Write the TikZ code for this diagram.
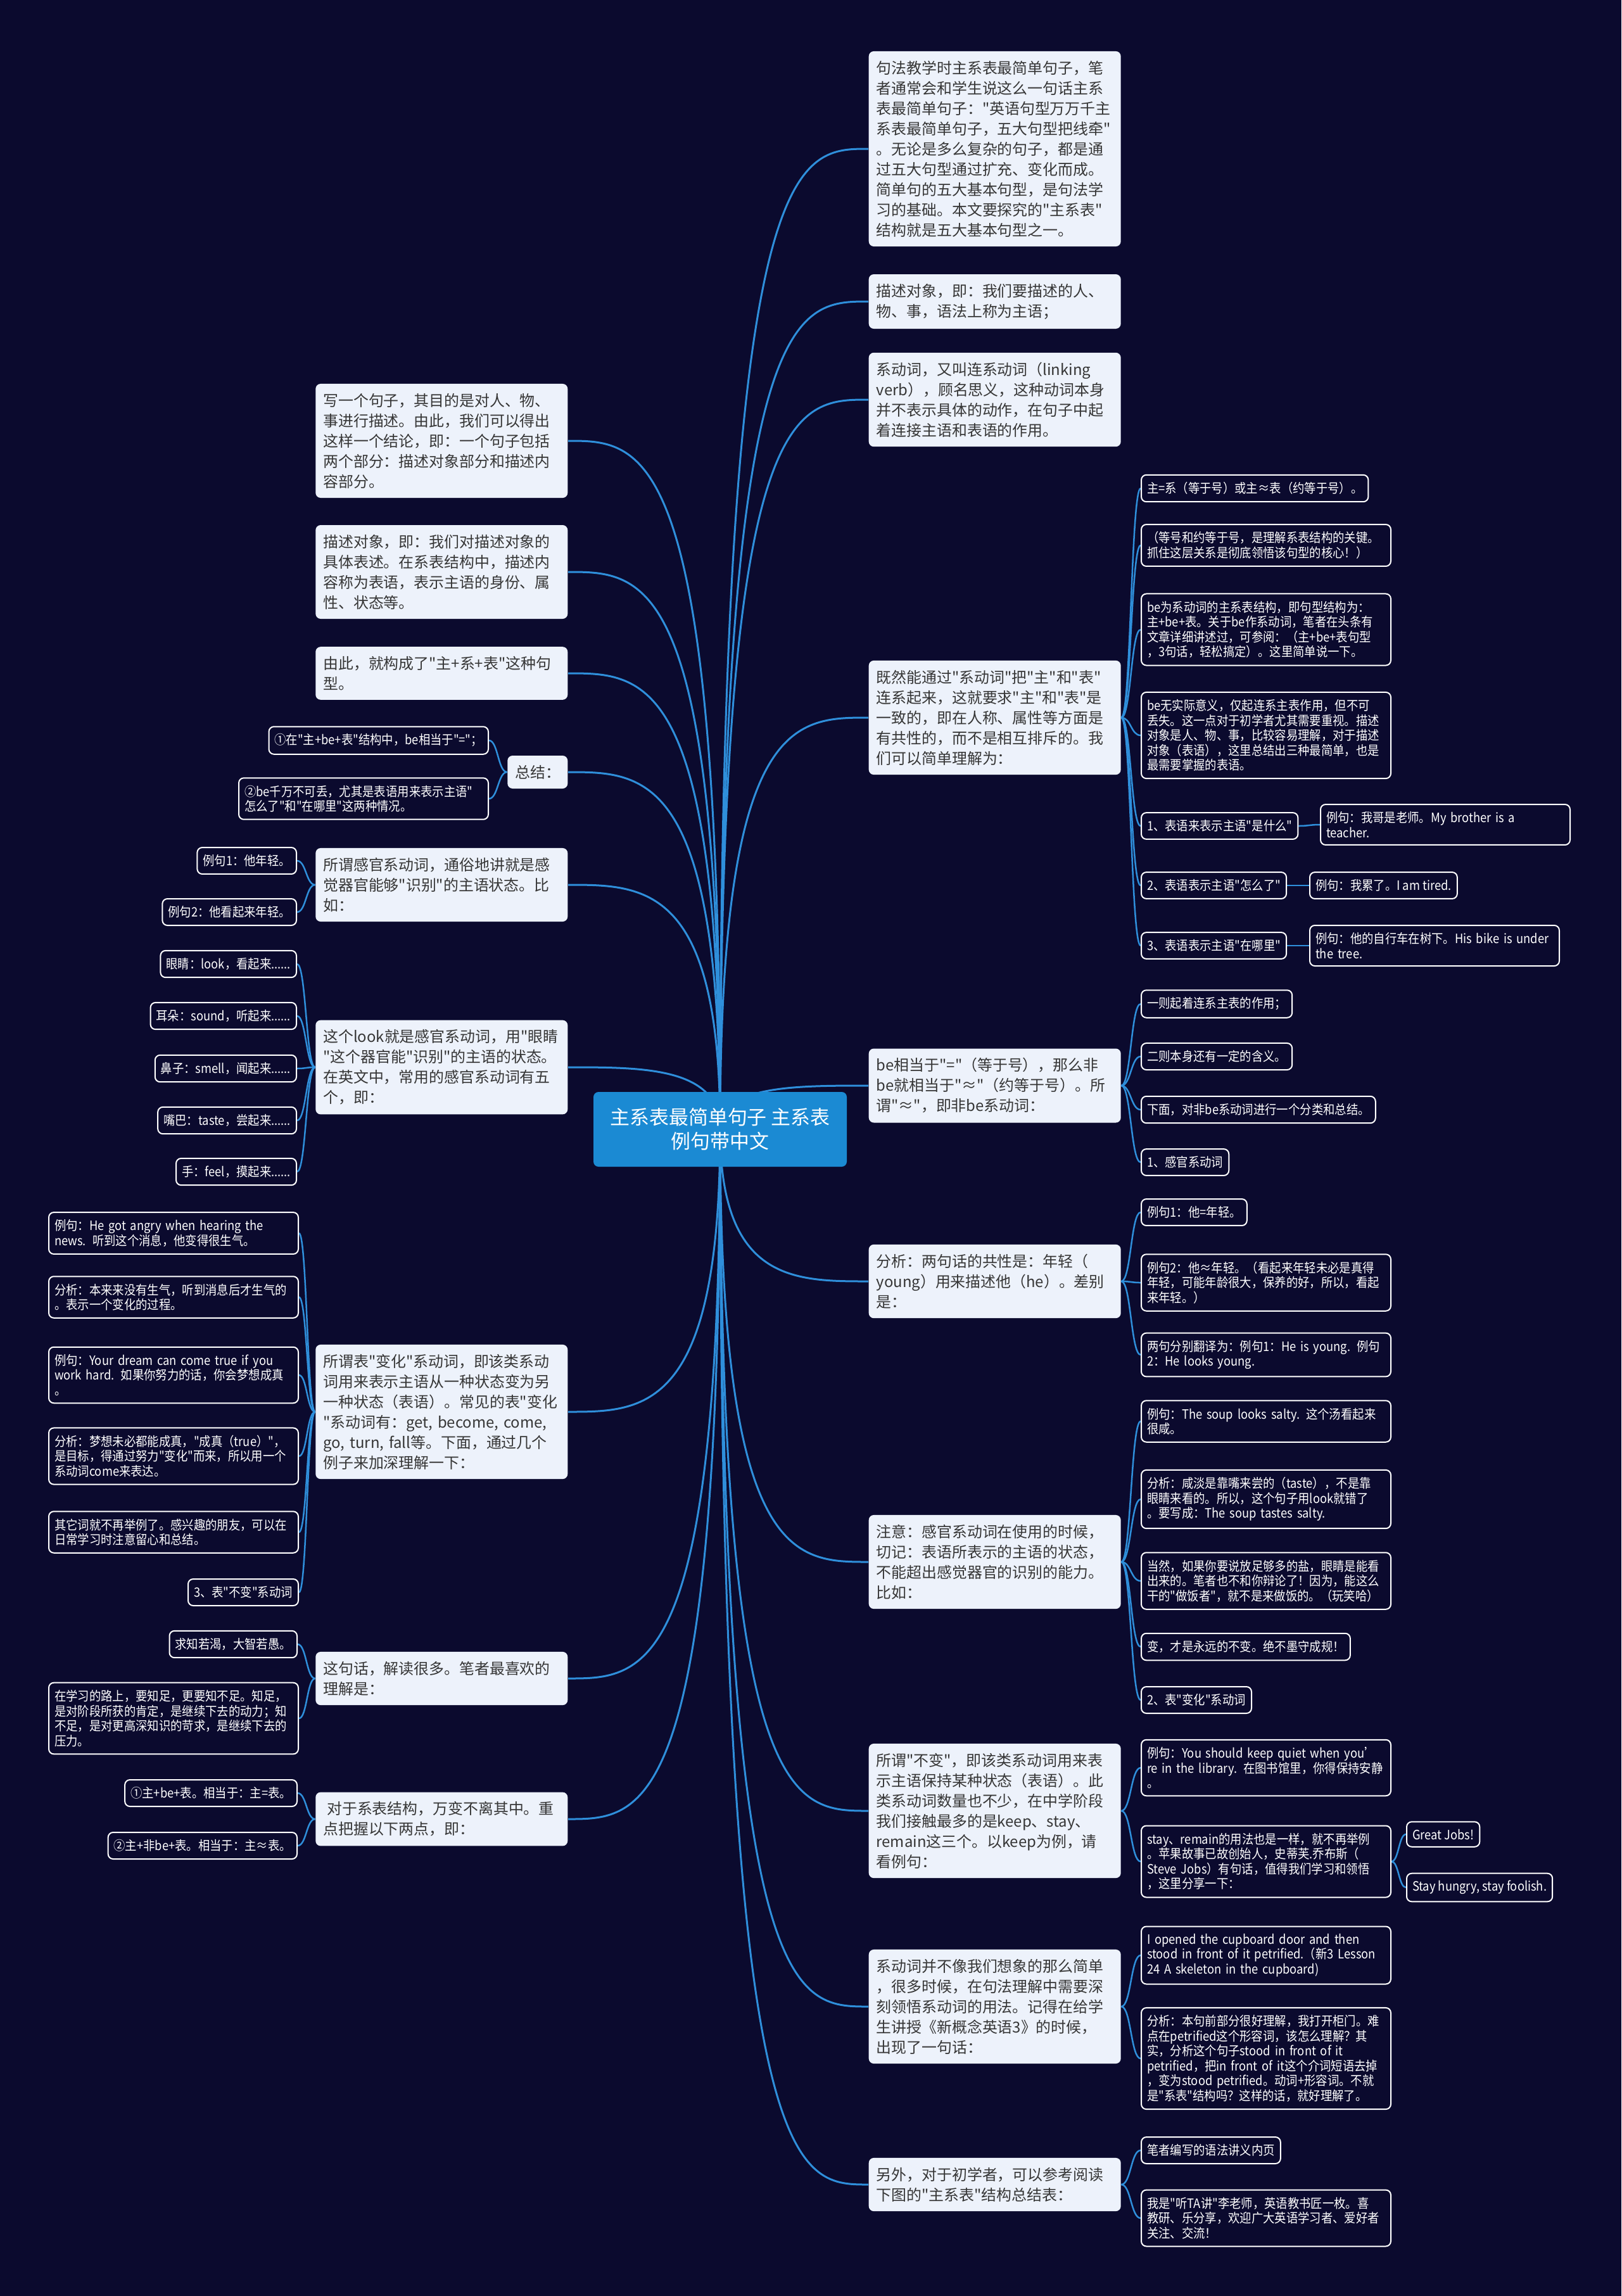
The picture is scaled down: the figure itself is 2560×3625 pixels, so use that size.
\documentclass[tikz,border=0pt]{standalone}
\usepackage{fontspec}
\newfontfamily\cjkmain{Noto Sans CJK SC}
\newfontfamily\cjknarrow[FakeStretch=0.9]{Noto Sans CJK SC}
\usetikzlibrary{calc,backgrounds}
\definecolor{nightbg}{HTML}{0B0A2E}
\definecolor{linkblue}{HTML}{2F8FDB}
\definecolor{hubblue}{HTML}{1B8AD3}
\definecolor{cardfill}{HTML}{EDF2FB}
\definecolor{cardtext}{HTML}{363636}

\begin{document}
\begin{tikzpicture}[
    x=0.1mm, y=-0.1mm,
    every node/.style={font=\cjkmain\fontsize{6.8}{9.1}\selectfont},
    hub/.style={rectangle, rounded corners=0.8mm, fill=hubblue, text=white, align=center, font=\cjkmain\fontsize{8.8}{10.8}\selectfont, minimum width=40mm, minimum height=11.8mm, inner sep=1.2mm},
    topic/.style={rectangle, rounded corners=0.8mm, fill=cardfill, text=cardtext, align=left, text width=37.4mm, inner xsep=1.2mm, inner ysep=1.5mm},
    leaf/.style={rectangle, rounded corners=0.8mm, draw=white, line width=0.2mm, fill=nightbg, text=white, align=left, inner xsep=0.9mm, inner ysep=1.15mm, font=\cjknarrow\fontsize{5.8}{6.7}\selectfont},
    wide/.style={text width=37.6mm},
    trunk/.style={draw=linkblue, line width=0.3mm, to path={let \p1=(\tikztostart), \p2=(\tikztotarget) in .. controls (\x1,\y2) and ({0.5*(\x1+\x2)},\y2) .. (\tikztotarget)}},
    twig/.style={draw=linkblue, line width=0.25mm, to path={let \p1=(\tikztostart), \p2=(\tikztotarget) in .. controls ({0.5*(\x1+\x2)},\y1) and ({0.5*(\x1+\x2)},\y2) .. (\tikztotarget)}}
]
\useasboundingbox (0,0) rectangle (2560,3625);

\node[hub] (hub) at (1137,1783) {主系表最简单句子 主系表\\例句带中文};

\node[topic, anchor=west] (r1) at (1371,235) {句法教学时主系表最简单句子，笔\\者通常会和学生说这么一句话主系\\表最简单句子："英语句型万万千主\\系表最简单句子，五大句型把线牵"\\。无论是多么复杂的句子，都是通\\过五大句型通过扩充、变化而成。\\简单句的五大基本句型，是句法学\\习的基础。本文要探究的"主系表"\\结构就是五大基本句型之一。};
\node[topic, anchor=west] (r2) at (1371,476) {描述对象，即：我们要描述的人、\\物、事，语法上称为主语；};
\node[topic, anchor=west] (r3) at (1371,631) {系动词，又叫连系动词（linking\\verb），顾名思义，这种动词本身\\并不表示具体的动作，在句子中起\\着连接主语和表语的作用。};
\node[topic, anchor=west] (r4) at (1371,1133) {既然能通过"系动词"把"主"和"表"\\连系起来，这就要求"主"和"表"是\\一致的，即在人称、属性等方面是\\有共性的，而不是相互排斥的。我\\们可以简单理解为：};
\node[topic, anchor=west] (r5) at (1371,1714) {be相当于"="（等于号），那么非\\be就相当于"≈"（约等于号）。所\\谓"≈"，即非be系动词：};
\node[topic, anchor=west] (r6) at (1371,2023) {分析：两句话的共性是：年轻（\\young）用来描述他（he）。差别\\是：};
\node[topic, anchor=west] (r7) at (1371,2466) {注意：感官系动词在使用的时候，\\切记：表语所表示的主语的状态，\\不能超出感觉器官的识别的能力。\\比如：};
\node[topic, anchor=west] (r8) at (1371,2859) {所谓"不变"，即该类系动词用来表\\示主语保持某种状态（表语）。此\\类系动词数量也不少，在中学阶段\\我们接触最多的是keep、stay、\\remain这三个。以keep为例，请\\看例句：};
\node[topic, anchor=west] (r9) at (1371,3168) {系动词并不像我们想象的那么简单\\，很多时候，在句法理解中需要深\\刻领悟系动词的用法。记得在给学\\生讲授《新概念英语3》的时候，\\出现了一句话：};
\node[topic, anchor=west] (r10) at (1371,3449) {另外，对于初学者，可以参考阅读\\下图的"主系表"结构总结表：};

\node[topic, anchor=east] (l1) at (897,696) {写一个句子，其目的是对人、物、\\事进行描述。由此，我们可以得出\\这样一个结论，即：一个句子包括\\两个部分：描述对象部分和描述内\\容部分。};
\node[topic, anchor=east] (l2) at (897,903) {描述对象，即：我们对描述对象的\\具体表述。在系表结构中，描述内\\容称为表语，表示主语的身份、属\\性、状态等。};
\node[topic, anchor=east] (l3) at (897,1063) {由此，就构成了"主+系+表"这种句\\型。};
\node[topic, anchor=east, text width=7.1mm] (l4) at (897,1219) {总结：};
\node[topic, anchor=east] (l5) at (897,1397) {所谓感官系动词，通俗地讲就是感\\觉器官能够"识别"的主语状态。比\\如：};
\node[topic, anchor=east] (l6) at (897,1685) {这个look就是感官系动词，用"眼睛\\"这个器官能"识别"的主语的状态。\\在英文中，常用的感官系动词有五\\个，即：};
\node[topic, anchor=east] (l7) at (897,2229) {所谓表"变化"系动词，即该类系动\\词用来表示主语从一种状态变为另\\一种状态（表语）。常见的表"变化\\"系动词有：get, become, come,\\go, turn, fall等。下面，通过几个\\例子来加深理解一下：};
\node[topic, anchor=east] (l8) at (897,2650) {这句话，解读很多。笔者最喜欢的\\理解是：};
\node[topic, anchor=east] (l9) at (897,2872) {\hspace*{0.25em}对于系表结构，万变不离其中。重\\点把握以下两点，即：};

\node[leaf, anchor=west] (r4a) at (1801,771) {主=系（等于号）或主≈表（约等于号）。};
\node[leaf, wide, anchor=west] (r4b) at (1801,861) {（等号和约等于号，是理解系表结构的关键。\\抓住这层关系是彻底领悟该句型的核心！）};
\node[leaf, wide, anchor=west] (r4c) at (1801,994) {be为系动词的主系表结构，即句型结构为：\\主+be+表。关于be作系动词，笔者在头条有\\文章详细讲述过，可参阅：（主+be+表句型\\，3句话，轻松搞定）。这里简单说一下。};
\node[leaf, wide, anchor=west] (r4d) at (1801,1161) {be无实际意义，仅起连系主表作用，但不可\\丢失。这一点对于初学者尤其需要重视。描述\\对象是人、物、事，比较容易理解，对于描述\\对象（表语），这里总结出三种最简单，也是\\最需要掌握的表语。};
\node[leaf, anchor=west] (r4e) at (1801,1304) {1、表语来表示主语"是什么"};
\node[leaf, anchor=west] (r4f) at (1801,1398) {2、表语表示主语"怎么了"};
\node[leaf, anchor=west] (r4g) at (1801,1493) {3、表语表示主语"在哪里"};
\node[leaf, wide, anchor=west] (e1) at (2084,1302) {例句：我哥是老师。My brother is a\\teacher.};
\node[leaf, anchor=west] (e2) at (2067,1398) {例句：我累了。I am tired.};
\node[leaf, wide, anchor=west] (e3) at (2067,1493) {例句：他的自行车在树下。His bike is under\\ the tree.};

\node[leaf, anchor=west] (r5a) at (1801,1585) {一则起着连系主表的作用；};
\node[leaf, anchor=west] (r5b) at (1801,1668) {二则本身还有一定的含义。};
\node[leaf, anchor=west] (r5c) at (1801,1752) {下面，对非be系动词进行一个分类和总结。};
\node[leaf, anchor=west] (r5d) at (1801,1835) {1、感官系动词};

\node[leaf, anchor=west] (r6a) at (1801,1914) {例句1：他=年轻。};
\node[leaf, wide, anchor=west] (r6b) at (1801,2025) {例句2：他≈年轻。（看起来年轻未必是真得\\年轻，可能年龄很大，保养的好，所以，看起\\来年轻。）};
\node[leaf, wide, anchor=west] (r6c) at (1801,2139) {两句分别翻译为：例句1：He is young. 例句\\2：He looks young.};

\node[leaf, wide, anchor=west] (r7a) at (1801,2244) {例句：The soup looks salty. 这个汤看起来\\很咸。};
\node[leaf, wide, anchor=west] (r7b) at (1801,2367) {分析：咸淡是靠嘴来尝的（taste），不是靠\\眼睛来看的。所以，这个句子用look就错了\\。要写成：The soup tastes salty.};
\node[leaf, wide, anchor=west] (r7c) at (1801,2496) {当然，如果你要说放足够多的盐，眼睛是能看\\出来的。笔者也不和你辩论了！因为，能这么\\干的"做饭者"，就不是来做饭的。（玩笑哈）};
\node[leaf, anchor=west] (r7d) at (1801,2600) {变，才是永远的不变。绝不墨守成规！};
\node[leaf, anchor=west] (r7e) at (1801,2684) {2、表"变化"系动词};

\node[leaf, wide, anchor=west] (r8a) at (1801,2791) {例句：You should keep quiet when you’\\re in the library. 在图书馆里，你得保持安静\\。};
\node[leaf, wide, anchor=west] (r8b) at (1801,2939) {stay、remain的用法也是一样，就不再举例\\。苹果故事已故创始人，史蒂芙.乔布斯（\\Steve Jobs）有句话，值得我们学习和领悟\\，这里分享一下：};
\node[leaf, anchor=west] (g1) at (2220,2896) {Great Jobs!};
\node[leaf, anchor=west] (g2) at (2220,2980) {Stay hungry, stay foolish.};

\node[leaf, wide, anchor=west] (r9a) at (1801,3087) {I opened the cupboard door and then\\stood in front of it petrified.（新3 Lesson\\ 24 A skeleton in the cupboard)};
\node[leaf, wide, anchor=west] (r9b) at (1801,3250) {分析：本句前部分很好理解，我打开柜门。难\\点在petrified这个形容词，该怎么理解？其\\实，分析这个句子stood in front of it\\petrified，把in front of it这个介词短语去掉\\，变为stood petrified。动词+形容词。不就\\是"系表"结构吗？这样的话，就好理解了。};

\node[leaf, anchor=west] (r10a) at (1801,3395) {笔者编写的语法讲义内页};
\node[leaf, wide, anchor=west] (r10b) at (1801,3502) {我是"听TA讲"李老师，英语教书匠一枚。喜\\教研、乐分享，欢迎广大英语学习者、爱好者\\关注、交流！};

\node[leaf, anchor=east] (l4a) at (772,1169) {①在"主+be+表"结构中，be相当于"="；};
\node[leaf, wide, anchor=east] (l4b) at (772,1261) {②be千万不可丢，尤其是表语用来表示主语"\\怎么了"和"在哪里"这两种情况。};

\node[leaf, anchor=east] (l5a) at (469,1359) {例句1：他年轻。};
\node[leaf, anchor=east] (l5b) at (469,1440) {例句2：他看起来年轻。};

\node[leaf, anchor=east] (l6a) at (469,1522) {眼睛：look，看起来......};
\node[leaf, anchor=east] (l6b) at (469,1604) {耳朵：sound，听起来......};
\node[leaf, anchor=east] (l6c) at (469,1687) {鼻子：smell，闻起来......};
\node[leaf, anchor=east] (l6d) at (469,1769) {嘴巴：taste，尝起来......};
\node[leaf, anchor=east] (l6e) at (469,1850) {手：feel，摸起来......};

\node[leaf, wide, anchor=east] (l7a) at (472,1947) {例句：He got angry when hearing the\\news. 听到这个消息，他变得很生气。};
\node[leaf, wide, anchor=east] (l7b) at (472,2048) {分析：本来来没有生气，听到消息后才生气的\\。表示一个变化的过程。};
\node[leaf, wide, anchor=east] (l7c) at (472,2171) {例句：Your dream can come true if you\\work hard. 如果你努力的话，你会梦想成真\\。};
\node[leaf, wide, anchor=east] (l7d) at (472,2299) {分析：梦想未必都能成真，"成真（true）"，\\是目标，得通过努力"变化"而来，所以用一个\\系动词come来表达。};
\node[leaf, wide, anchor=east] (l7e) at (472,2419) {其它词就不再举例了。感兴趣的朋友，可以在\\日常学习时注意留心和总结。};
\node[leaf, anchor=east] (l7f) at (472,2514) {3、表"不变"系动词};

\node[leaf, anchor=east] (l8a) at (470,2596) {求知若渴，大智若愚。};
\node[leaf, wide, anchor=east] (l8b) at (472,2713) {在学习的路上，要知足，更要知不足。知足，\\是对阶段所获的肯定，是继续下去的动力；知\\不足，是对更高深知识的苛求，是继续下去的\\压力。};

\node[leaf, anchor=east] (l9a) at (470,2831) {①主+be+表。相当于：主=表。};
\node[leaf, anchor=east] (l9b) at (470,2914) {②主+非be+表。相当于：主≈表。};

\begin{scope}[on background layer]
\fill[nightbg] (0,0) rectangle (2560,3625);

\draw[trunk] (hub.center) to (r1.west);
\draw[trunk] (hub.center) to (r2.west);
\draw[trunk] (hub.center) to (r3.west);
\draw[trunk] (hub.center) to (r4.west);
\draw[trunk] (hub.center) to (r5.west);
\draw[trunk] (hub.center) to (r6.west);
\draw[trunk] (hub.center) to (r7.west);
\draw[trunk] (hub.center) to (r8.west);
\draw[trunk] (hub.center) to (r9.west);
\draw[trunk] (hub.center) to (r10.west);
\draw[trunk] (hub.center) to (l1.east);
\draw[trunk] (hub.center) to (l2.east);
\draw[trunk] (hub.center) to (l3.east);
\draw[trunk] (hub.center) to (l4.east);
\draw[trunk] (hub.center) to (l5.east);
\draw[trunk] (hub.center) to (l6.east);
\draw[trunk] (hub.center) to (l7.east);
\draw[trunk] (hub.center) to (l8.east);
\draw[trunk] (hub.center) to (l9.east);

\draw[twig] (r4.east) to (r4a.west);
\draw[twig] (r4.east) to (r4b.west);
\draw[twig] (r4.east) to (r4c.west);
\draw[twig] (r4.east) to (r4d.west);
\draw[twig] (r4.east) to (r4e.west);
\draw[twig] (r4.east) to (r4f.west);
\draw[twig] (r4.east) to (r4g.west);
\draw[twig] (r4e.east) to (e1.west);
\draw[twig] (r4f.east) to (e2.west);
\draw[twig] (r4g.east) to (e3.west);
\draw[twig] (r5.east) to (r5a.west);
\draw[twig] (r5.east) to (r5b.west);
\draw[twig] (r5.east) to (r5c.west);
\draw[twig] (r5.east) to (r5d.west);
\draw[twig] (r6.east) to (r6a.west);
\draw[twig] (r6.east) to (r6b.west);
\draw[twig] (r6.east) to (r6c.west);
\draw[twig] (r7.east) to (r7a.west);
\draw[twig] (r7.east) to (r7b.west);
\draw[twig] (r7.east) to (r7c.west);
\draw[twig] (r7.east) to (r7d.west);
\draw[twig] (r7.east) to (r7e.west);
\draw[twig] (r8.east) to (r8a.west);
\draw[twig] (r8.east) to (r8b.west);
\draw[twig] (r8b.east) to (g1.west);
\draw[twig] (r8b.east) to (g2.west);
\draw[twig] (r9.east) to (r9a.west);
\draw[twig] (r9.east) to (r9b.west);
\draw[twig] (r10.east) to (r10a.west);
\draw[twig] (r10.east) to (r10b.west);

\draw[twig] (l4.west) to (l4a.east);
\draw[twig] (l4.west) to (l4b.east);
\draw[twig] (l5.west) to (l5a.east);
\draw[twig] (l5.west) to (l5b.east);
\draw[twig] (l6.west) to (l6a.east);
\draw[twig] (l6.west) to (l6b.east);
\draw[twig] (l6.west) to (l6c.east);
\draw[twig] (l6.west) to (l6d.east);
\draw[twig] (l6.west) to (l6e.east);
\draw[twig] (l7.west) to (l7a.east);
\draw[twig] (l7.west) to (l7b.east);
\draw[twig] (l7.west) to (l7c.east);
\draw[twig] (l7.west) to (l7d.east);
\draw[twig] (l7.west) to (l7e.east);
\draw[twig] (l7.west) to (l7f.east);
\draw[twig] (l8.west) to (l8a.east);
\draw[twig] (l8.west) to (l8b.east);
\draw[twig] (l9.west) to (l9a.east);
\draw[twig] (l9.west) to (l9b.east);
\end{scope}

\end{tikzpicture}
\end{document}
